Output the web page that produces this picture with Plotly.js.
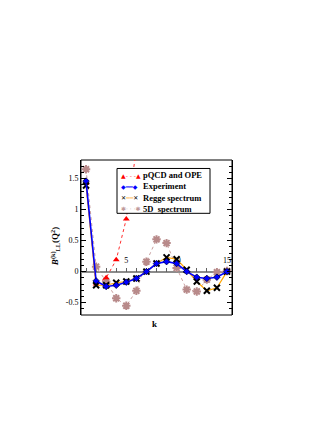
<!DOCTYPE html>
<html>
<head>
<meta charset="utf-8">
<script src="https://cdn.plot.ly/plotly-3.0.1.min.js"></script>
<style>
  html, body { margin: 0; padding: 0; background: #fff; }
  #chart { width: 327px; height: 423px; }
</style>
</head>
<body>
<div id="chart"></div>
<script>
// --- Data ---
const kVals = [1, 2, 3, 4, 5, 6, 7, 8, 9, 10, 11, 12, 13, 14, 15];
const kPqcd = [1, 2, 3, 4, 5, 6, 7];
const pqcd = [1.42, -0.2, -0.1, 0.19, 0.85, 1.97, 4.0];
const experiment = [1.46, -0.15, -0.24, -0.22, -0.17, -0.11, 0.0, 0.13, 0.16, 0.13, 0.0, -0.09, -0.11, -0.09, 0.0];
const regge = [1.39, -0.22, -0.22, -0.18, -0.16, -0.11, 0.0, 0.13, 0.23, 0.20, 0.03, -0.16, -0.31, -0.26, 0.0];
const spec5d = [1.65, 0.08, -0.16, -0.43, -0.55, -0.31, 0.16, 0.52, 0.46, 0.06, -0.29, -0.32, -0.13, -0.01, 0.01];

const kLabelTicks = [5, 10, 15];
const yTicks = [-0.5, 0, 0.5, 1, 1.5];
const yTickText = ['-0.5', '0', '0.5', '1', '1.5'];

// legend rows: label, symbol glyph, symbol colour, line glyphs, line colour
const legendNames = ['pQCD and OPE', 'Experiment', 'Regge spectrum', '5D  spectrum'];
const legendGlyph = ['▲', '◆', '✕', '✱'];
const legendGlyphColor = ['#ff0000', '#0000ff', '#000000', '#c09a9a'];
const legendLine = ['‑ ‑ ‑', '━━', '━━', '· · ·'];
const legendLineColor = ['#ff4040', '#0000ff', '#ffc060', '#c9a0a0'];

const SERIF = 'Liberation Serif, Times New Roman, serif';

const traces = [
  { // drawn first so it sits behind
    x: kVals, y: spec5d, name: '5D  spectrum', type: 'scatter', mode: 'lines+markers',
    line: { color: '#c9a0a0', width: 1, dash: 'dot' },
    marker: { symbol: 'asterisk-open', size: 7, color: '#b88a8a', line: { color: '#b88a8a', width: 2 } }
  },
  {
    x: kPqcd, y: pqcd, name: 'pQCD and OPE', type: 'scatter', mode: 'lines+markers',
    line: { color: '#ff3030', width: 1, dash: 'dot' },
    marker: { symbol: 'triangle-up', size: 6, color: '#ff0000' }
  },
  {
    x: kVals, y: regge, name: 'Regge spectrum', type: 'scatter', mode: 'lines+markers',
    line: { color: '#ffa500', width: 1.2 },
    marker: { symbol: 'x-thin-open', size: 6, color: '#000', line: { color: '#000', width: 2 } }
  },
  {
    x: kVals, y: experiment, name: 'Experiment', type: 'scatter', mode: 'lines+markers',
    line: { color: '#0000ff', width: 1.6 },
    marker: { symbol: 'diamond', size: 5, color: '#0000ff', line: { color: '#000040', width: 0.8 } }
  }
];

// pixel -> paper helpers for the plot area (81..232 x, 159.5..315 y)
const PX = px => (px - 81) / 151;
const PY = py => (315 - py) / 155.5;

const legendRowY = [175, 186, 197.5, 208.5];
const annotations = [];
legendNames.forEach((name, i) => {
  const g = '<span style="color:' + legendGlyphColor[i] + '">' + legendGlyph[i] + '</span>';
  annotations.push({
    text: g + '<span style="color:' + legendLineColor[i] + '">' + legendLine[i] + '</span>' + g,
    xref: 'paper', yref: 'paper', x: PX(119), y: PY(legendRowY[i]),
    xanchor: 'left', yanchor: 'middle', showarrow: false,
    font: { family: 'DejaVu Sans', size: 6 }
  });
  annotations.push({
    text: '<b>' + name + '</b>',
    xref: 'paper', yref: 'paper', x: PX(141), y: PY(legendRowY[i]),
    xanchor: 'left', yanchor: 'middle', showarrow: false,
    font: { family: SERIF, size: 8.5, color: '#000' }
  });
});
annotations.push({
  text: '<b><i>B</i><sup>(k)</sup><sub>LL</sub>(Q<sup>2</sup>)</b>',
  xref: 'paper', yref: 'paper', x: -0.17, y: 0.44,
  xanchor: 'center', yanchor: 'middle', textangle: -90, showarrow: false,
  font: { family: SERIF, size: 9, color: '#000' }
});
annotations.push({
  text: '<b>k</b>', xref: 'paper', yref: 'paper', x: 0.49, y: -0.01,
  xanchor: 'center', yanchor: 'top', showarrow: false,
  font: { family: SERIF, size: 9, color: '#000' }
});

const layout = {
  width: 327, height: 423,
  margin: { l: 81, r: 95, t: 160, b: 108 },
  paper_bgcolor: '#fff', plot_bgcolor: '#fff',
  font: { family: SERIF, color: '#000', size: 8 },
  showlegend: false,
  xaxis: {
    range: [0.5, 15.5], anchor: 'free', position: 0.28, side: 'top',
    showgrid: false, zeroline: false, showline: false,
    tickvals: kLabelTicks,
    ticks: 'outside', ticklen: 4, tickcolor: '#606060', tickwidth: 1,
    minor: { tick0: 0, dtick: 1, ticks: 'outside', ticklen: 4, tickcolor: '#606060', tickwidth: 1, showgrid: false },
    tickfont: { family: SERIF, size: 8, color: '#000' },
    ticklabelstandoff: 1,
    layer: 'below traces'
  },
  yaxis: {
    range: [-0.7, 1.8], showgrid: false,
    zeroline: true, zerolinecolor: '#8c8c8c', zerolinewidth: 2,
    showline: true, mirror: 'allticks', linecolor: '#000', linewidth: 1,
    tickvals: yTicks, ticktext: yTickText,
    ticks: 'inside', ticklen: 5, tickcolor: '#000',
    minor: { dtick: 0.1, ticks: 'inside', ticklen: 3, tickcolor: '#000' },
    tickfont: { family: SERIF, size: 8, color: '#000' }
  },
  shapes: [
    { type: 'rect', xref: 'paper', yref: 'paper', x0: 0, x1: 1, y0: 0, y1: 1,
      line: { color: '#000', width: 1 }, fillcolor: 'rgba(0,0,0,0)', layer: 'below' },
    { type: 'rect', xref: 'paper', yref: 'paper', x0: PX(117), x1: PX(210), y0: PY(213), y1: PY(168),
      line: { color: '#000', width: 1 }, fillcolor: '#fff', layer: 'above' }
  ],
  annotations: annotations
};

Plotly.newPlot('chart', traces, layout, { displayModeBar: false, staticPlot: true });
</script>
</body>
</html>
